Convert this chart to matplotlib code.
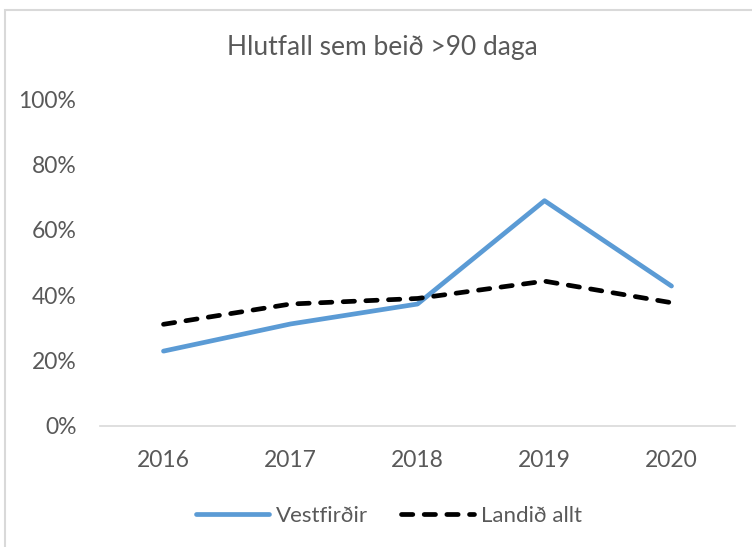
import matplotlib.pyplot as plt
from matplotlib.patches import Rectangle

years = ['2016', '2017', '2018', '2019', '2020']
vestfirdir = [22.9, 31.2, 37.3, 68.9, 42.8]
landid_allt = [31.1, 37.3, 39.0, 44.3, 37.7]

plt.rcParams['font.family'] = ['Lato', 'DejaVu Sans']
txt = '#595959'

fig = plt.figure(figsize=(7.52, 5.47), dpi=100)
ax = fig.add_axes([100/752, 121/547, 635/752, 327/547])

x = range(len(years))
ax.plot(x, vestfirdir, color='#5B9BD5', lw=3.4, solid_capstyle='round', label='Vestfirðir')
ax.plot(x, landid_allt, color='black', lw=3.4, ls=(0, (2.4, 2.4)), dash_capstyle='round', label='Landið allt')

ax.set_xlim(-0.5, 4.5)
ax.set_ylim(0, 100)
ax.set_xticks(list(x))
ax.set_xticklabels(years)
ax.set_yticks([0, 20, 40, 60, 80, 100])
ax.set_yticklabels(['0%', '20%', '40%', '60%', '80%', '100%'])
ax.tick_params(length=0, labelsize=16.5, colors=txt)
ax.tick_params(axis='x', pad=17)
ax.tick_params(axis='y', pad=17)
for s in ['top', 'right', 'left']:
    ax.spines[s].set_visible(False)
ax.spines['bottom'].set_color('#D9D9D9')
ax.spines['bottom'].set_linewidth(1.2)

fig.text(0.508, 1 - 48/547, 'Hlutfall sem beið >90 daga', ha='center', va='center',
         fontsize=19, color=txt)

leg = fig.legend(loc='center', bbox_to_anchor=(0.517, 1 - 516/547), ncol=2, frameon=False,
                 fontsize=16, handlelength=3.3, columnspacing=1.5, handletextpad=0.3)
for t in leg.get_texts():
    t.set_color(txt)

fig.patches.append(Rectangle((5/752, -0.1), 1.1, 1 - 10/547 + 0.1, transform=fig.transFigure,
                             fill=False, edgecolor='#D9D9D9', lw=1.5))

fig.savefig('out.png', dpi=100)
